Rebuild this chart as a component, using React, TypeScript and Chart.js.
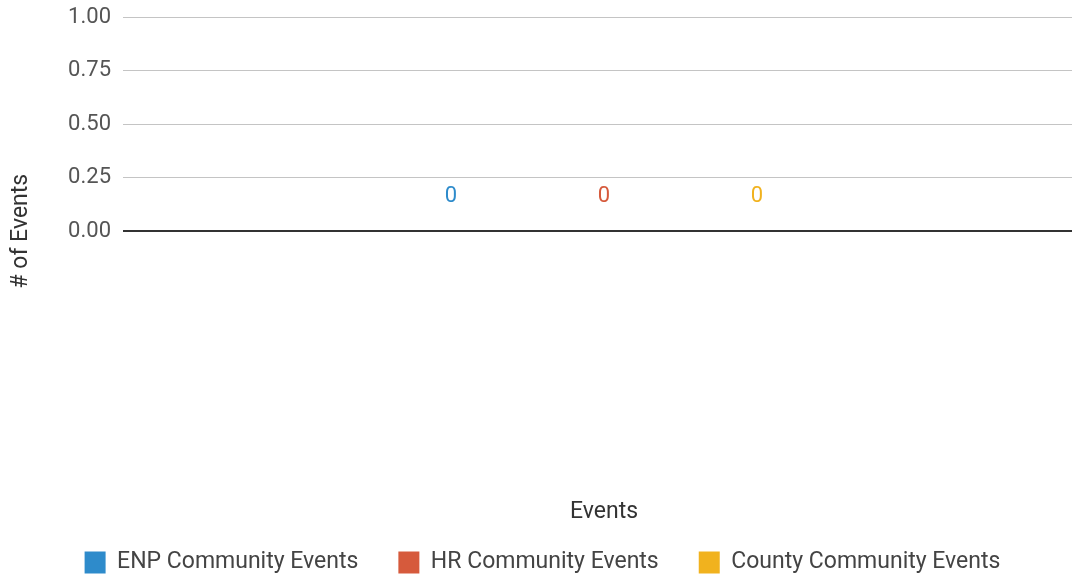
import React, { useEffect, useRef } from "react";
import { Chart, registerables } from "chart.js";

Chart.register(...registerables);

const categories: string[] = [""];
const seriesNames: string[] = ["ENP Community Events", "HR Community Events", "County Community Events"];
const enpValues: number[] = [0];
const hrValues: number[] = [0];
const countyValues: number[] = [0];
const seriesColors: string[] = ["#2e8bcb", "#d65a3c", "#f1b21e"];
const yTickValues: number[] = [0, 0.25, 0.5, 0.75, 1];

const valueLabelPlugin = {
  id: "valueLabels",
  afterDatasetsDraw(chart: any) {
    const ctx = chart.ctx;
    ctx.save();
    ctx.font = "22px Roboto";
    ctx.textAlign = "center";
    ctx.textBaseline = "middle";
    chart.data.datasets.forEach((ds: any, i: number) => {
      const meta = chart.getDatasetMeta(i);
      meta.data.forEach((bar: any, j: number) => {
        ctx.fillStyle = seriesColors[i];
        ctx.fillText(String(ds.data[j]), bar.x, bar.y - 35);
      });
    });
    ctx.restore();
  },
};

export default function App() {
  const ref = useRef<HTMLCanvasElement>(null);
  useEffect(() => {
    if (!ref.current) return;
    const chart = new Chart(ref.current, {
      type: "bar",
      data: {
        labels: categories,
        datasets: [
          { label: seriesNames[0], data: enpValues, backgroundColor: seriesColors[0] },
          { label: seriesNames[1], data: hrValues, backgroundColor: seriesColors[1] },
          { label: seriesNames[2], data: countyValues, backgroundColor: seriesColors[2] },
        ],
      },
      options: {
        responsive: false,
        animation: false,
        layout: { padding: { top: 17, right: 10, bottom: -2, left: 0 } },
        datasets: { bar: { categoryPercentage: 0.477, barPercentage: 0.9 } },
        plugins: {
          tooltip: { enabled: false },
          legend: {
            position: "bottom",
            labels: {
              font: { family: "Roboto", size: 23 },
              color: "#444",
              boxWidth: 21,
              boxHeight: 22,
              padding: 40,
            },
          },
        },
        scales: {
          x: {
            grid: { display: false },
            border: { display: false },
            ticks: { display: false },
            title: {
              display: true,
              text: "Events",
              color: "#333",
              font: { family: "Roboto", size: 23 },
              padding: { top: 45, bottom: -15 },
            },
          },
          y: {
            min: -1,
            max: 1,
            afterFit: (scale: any) => {
              scale.width = 123;
              scale.paddingTop = 0;
              scale.paddingBottom = 0;
            },
            afterBuildTicks: (scale: any) => {
              scale.ticks = [-1, -0.75, -0.5, -0.25, ...yTickValues].map((v) => ({ value: v }));
            },
            border: { display: false },
            grid: {
              drawTicks: false,
              color: (c: any) =>
                c.tick && c.tick.value < 0 ? "rgba(0,0,0,0)" : c.tick && c.tick.value === 0 ? "#333" : "#c4c4c4",
              lineWidth: (c: any) => (c.tick && c.tick.value === 0 ? 2 : 1),
            },
            ticks: {
              padding: 12,
              color: "#555",
              font: { family: "Roboto", size: 22 },
              callback: (v: any) => (Number(v) < 0 ? "" : Number(v).toFixed(2)),
            },
            title: {
              display: true,
              text: "# of Events",
              color: "#333",
              font: { family: "Roboto", size: 23 },
              padding: { top: 7, bottom: 0 },
            },
          },
        },
      },
      plugins: [valueLabelPlugin],
    });
    return () => chart.destroy();
  }, []);
  return (
    <div style={{ position: "fixed", left: 0, top: 0, width: 1072, height: 582, overflow: "hidden", background: "#fff" }}>
      <canvas ref={ref} width={1095} height={582} style={{ display: "block" }} />
    </div>
  );
}
